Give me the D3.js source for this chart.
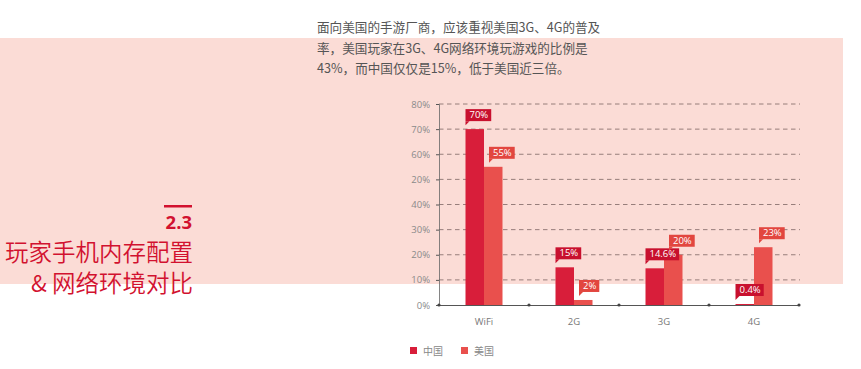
<!DOCTYPE html>
<html><head><meta charset="utf-8">
<script src="https://cdn.jsdelivr.net/npm/d3@7/dist/d3.min.js"></script>
<style>body{margin:0;background:#fff}svg{display:block}</style>
</head><body>
<svg id="c" width="861" height="369"></svg>
<script>
const categories = ["WiFi", "2G", "3G", "4G"];
const seriesNames = ["中国", "美国"];
const china = [70, 15, 14.6, 0.4];
const usa = [55, 2, 20, 23];
const valueLabelsChina = ["70%", "15%", "14.6%", "0.4%"];
const valueLabelsUsa = ["55%", "2%", "20%", "23%"];
const tickValues = [0, 10, 20, 30, 40, 50, 60, 70, 80];
const tickLabels = ["0%", "10%", "20%", "30%", "40%", "20%", "60%", "70%", "80%"];
const introLines = ["面向美国的手游厂商，应该重视美国3G、4G的普及", "率，美国玩家在3G、4G网络环境玩游戏的比例是", "43%，而中国仅仅是15%，低于美国近三倍。"];
const titleNum = "2.3";
const titleLines = ["玩家手机内存配置", "& 网络环境对比"];

const colors = ["#d81e3a", "#e9504d"];
const labelColors = ["#c8102e", "#e2463f"];
const svg = d3.select("#c");
const CJK = "'Noto Sans CJK SC','Noto Sans',sans-serif";

// pink band
svg.append("rect").attr("x", 0).attr("y", 38).attr("width", 843).attr("height", 246).attr("fill", "#fbdcd6");

// intro text
svg.append("g").selectAll("text").data(introLines).join("text")
  .attr("x", 317).attr("y", (d, i) => 32 + i * 20.5)
  .attr("font-family", CJK).attr("font-size", 12.6).attr("fill", "#555")
  .text(d => d);

// left title
const red = "#d2112f";
svg.append("rect").attr("x", 164).attr("y", 205).attr("width", 28).attr("height", 2.5).attr("fill", red);
svg.append("text").attr("x", 192).attr("y", 229).attr("text-anchor", "end")
  .attr("font-family", "'Open Sans','Noto Sans',sans-serif").attr("font-weight", "bold")
  .attr("font-size", 18.5).attr("fill", red).text(titleNum);
svg.append("g").selectAll("text").data(titleLines).join("text")
  .attr("x", 193).attr("y", (d, i) => 261 + i * 31).attr("text-anchor", "end")
  .attr("font-family", CJK).attr("font-weight", 350).attr("font-size", 23.5).attr("fill", red).text(d => d);

// scales
const x = d3.scaleBand().domain(categories).range([439, 799]).padding(0);
const y = d3.scaleLinear().domain([0, 80]).range([305, 104]);
const barW = 18.5;

// gridlines
svg.append("g").selectAll("line").data(tickValues.filter(v => v > 0)).join("line")
  .attr("x1", 439).attr("x2", 800).attr("y1", d => y(d)).attr("y2", d => y(d))
  .attr("stroke", "#7d6663").attr("stroke-width", 0.8).attr("stroke-dasharray", "4.5,3.5");

// y axis
const yAxis = d3.axisLeft(y).tickValues(tickValues).tickSize(3).tickFormat((d, i) => tickLabels[i]);
const gy = svg.append("g").attr("transform", "translate(439,0)").call(yAxis);
gy.select(".domain").attr("stroke", "#666").attr("stroke-width", 0.8);
gy.selectAll(".tick line").attr("stroke", "#555");
gy.selectAll(".tick text").attr("fill", "#8a8a8a").attr("font-size", 9.5)
  .attr("font-family", "'Open Sans','Noto Sans',sans-serif").attr("x", -9);

// x axis
const xAxis = d3.axisBottom(x).tickSize(0).tickPadding(13);
const gx = svg.append("g").attr("transform", "translate(0,305)").call(xAxis);
gx.select(".domain").attr("stroke", "#555").attr("stroke-width", 1);
gx.selectAll(".tick text").attr("fill", "#777").attr("font-size", 9.5)
  .attr("font-family", "'Open Sans','Noto Sans',sans-serif");
// boundary dots
svg.append("g").selectAll("circle").data(d3.range(categories.length + 1)).join("circle")
  .attr("cx", i => 439 + i * x.bandwidth()).attr("cy", 305).attr("r", 1.6).attr("fill", "#444");

// bars
const seriesData = [china, usa];
const seriesLabels = [valueLabelsChina, valueLabelsUsa];
seriesData.forEach((vals, s) => {
  const g = svg.append("g");
  g.selectAll("rect").data(vals).join("rect")
    .attr("x", (d, i) => x(categories[i]) + x.bandwidth() / 2 - barW + s * barW)
    .attr("y", d => y(d)).attr("width", barW).attr("height", d => y(0) - y(d))
    .attr("fill", colors[s]);
});

// callout labels
seriesData.forEach((vals, s) => {
  vals.forEach((v, i) => {
    const bx = x(categories[i]) + x.bandwidth() / 2 - barW + s * barW + (s ? 5 : 0);
    const bottom = y(v) - 8;
    const g = svg.append("g");
    const t = g.append("text").attr("x", bx + 4).attr("y", bottom - 3)
      .attr("font-family", "'Open Sans','Noto Sans',sans-serif").attr("font-size", 9.5)
      .attr("fill", "#fff").text(seriesLabels[s][i]);
    const w = t.node().getComputedTextLength() + 7;
    g.insert("rect", "text").attr("x", bx).attr("y", bottom - 12).attr("width", w).attr("height", 12)
      .attr("fill", labelColors[s]);
    g.insert("path", "text").attr("d", `M${bx},${bottom} L${bx},${bottom + 4} L${bx + 4},${bottom} Z`)
      .attr("fill", labelColors[s]);
  });
});

// legend
const lg = svg.append("g");
seriesNames.forEach((n, i) => {
  const lx = 410 + i * 51;
  lg.append("rect").attr("x", lx).attr("y", 347).attr("width", 7).attr("height", 7).attr("fill", colors[i]);
  lg.append("text").attr("x", lx + 13).attr("y", 355).attr("font-family", CJK)
    .attr("font-size", 10).attr("fill", "#888").text(n);
});
</script>
</body></html>
